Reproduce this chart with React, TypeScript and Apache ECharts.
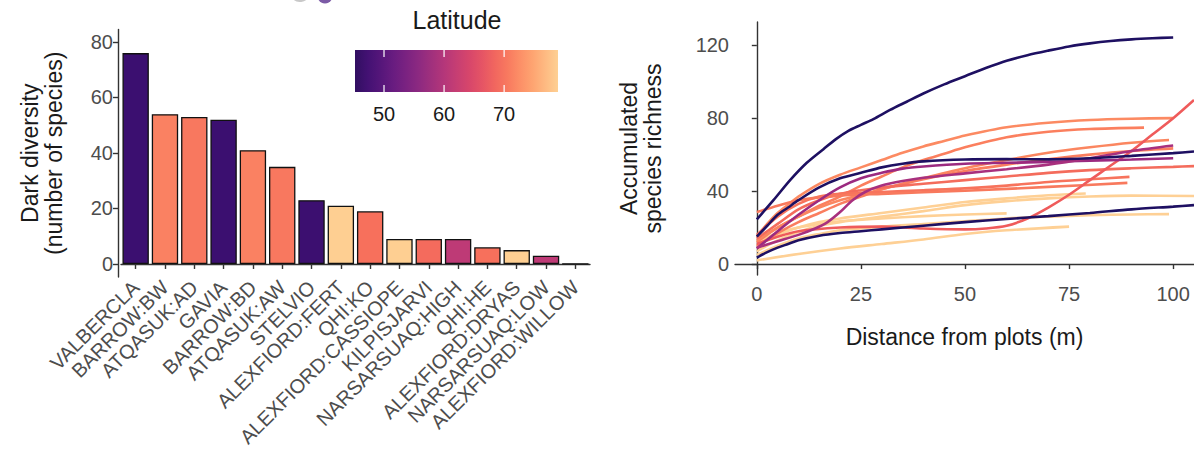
import React, { useEffect, useRef } from "react";
import * as echarts from "echarts";

// ---------- data ----------
const sites = [
  "VALBERCLA", "BARROW:BW", "ATQASUK:AD", "GAVIA", "BARROW:BD", "ATQASUK:AW",
  "STELVIO", "ALEXFIORD:FERT", "QHI:KO", "ALEXFIORD:CASSIOPE", "KILPISJARVI",
  "NARSARSUAQ:HIGH", "QHI:HE", "ALEXFIORD:DRYAS", "NARSARSUAQ:LOW", "ALEXFIORD:WILLOW",
];
const darkDiversity = [76, 54, 53, 52, 41, 35, 23, 21, 19, 9, 9, 9, 6, 5, 3, 0];
const siteLatitude = [46.4, 71.3, 70.45, 46.4, 71.3, 70.45, 46.5, 78.9, 69.6, 78.9, 69.05, 61.2, 69.6, 78.9, 61.2, 78.9];
const barTicks = [0, 20, 40, 60, 80];
const legendTicks = [50, 60, 70];
const legendRange = [45.17, 78.97];
const curveXTicks = [0, 25, 50, 75, 100];
const curveYTicks = [0, 40, 80, 120];

// accumulation curves: [distance, richness]
const curveA = [[0, 24.5], [4, 35], [8, 46], [12, 55.5], [16, 63], [19, 68.5], [22, 73], [25, 76.3], [28, 79.5], [32, 84.5], [36, 89], [40, 93.5], [45, 98.5], [50, 103], [55, 107.5], [60, 111.5], [65, 114.5], [70, 117], [75, 119.3], [80, 121], [85, 122.3], [90, 123.2], [95, 123.8], [100, 124.2]];
const curveD = [[0, 15], [2.5, 21], [5, 27], [7.5, 31], [10, 35], [15, 42], [20, 47], [25, 50], [30, 53], [35, 55], [40, 56.3], [50, 57.3], [60, 57.5], [70, 57.4], [80, 58], [90, 59.3], [100, 60.8], [105, 61.7]];
const curveE = [[0, 3.5], [2.5, 6.5], [5, 9], [7.5, 11], [10, 13], [15, 15.5], [20, 17], [25, 18], [30, 19], [40, 21], [50, 23], [60, 24.7], [70, 26.3], [80, 28], [90, 30], [100, 31.5], [105, 32.3]];
const curveF = [[0, 8.5], [5, 18], [10, 27], [15, 35], [20, 42], [25, 47], [30, 50], [35, 52.3], [40, 53.5], [50, 55], [60, 55.5], [70, 56], [80, 56.7], [90, 57.3], [100, 58]];
const curveG = [[0, 9], [5, 12.5], [10, 16], [14, 19.5], [17, 23], [20, 28.5], [23, 35], [26, 39.5], [30, 43], [35, 45.5], [40, 47.3], [50, 49.7], [60, 52], [70, 54.5], [80, 58], [90, 62], [100, 65]];
const curveB = [[0, 15], [2.5, 22], [5, 28], [7.5, 32.5], [10, 37], [15, 44], [20, 49], [25, 53], [30, 57], [35, 61], [40, 64.5], [45, 67.5], [50, 70.5], [60, 75], [70, 77.5], [80, 79], [90, 79.7], [100, 80]];
const curveC = [[0, 12], [5, 20], [10, 26], [15, 32], [20, 37], [25, 43], [30, 48], [35, 53], [40, 57], [45, 60.5], [50, 64], [60, 69.5], [70, 72.5], [80, 74], [93, 74.8]];
const curveH = [[0, 11], [5, 15], [10, 18], [20, 20], [30, 20.5], [40, 19.5], [50, 19], [55, 19.5], [60, 21], [65, 25], [70, 31], [75, 38], [80, 46], [85, 54], [90, 62], [95, 71], [100, 80], [105, 90]];
const curveI = [[0, 13], [5, 20], [10, 26], [15, 31], [20, 35], [25, 38], [30, 41], [40, 47], [50, 52.5], [60, 57], [70, 61], [80, 64], [90, 66.5], [99, 68]];
const curveJ = [[0, 10], [5, 17], [10, 23], [15, 28], [20, 33], [25, 37], [30, 41], [40, 46.5], [50, 51], [60, 54.5], [70, 57.5], [80, 60], [90, 62], [100, 63.4]];
const curveK = [[0, 14], [5, 22], [10, 30], [15, 35], [20, 38.5], [25, 40.5], [30, 42], [40, 44], [50, 46], [60, 48], [70, 50], [80, 51.5], [90, 52.5], [100, 53.3], [105, 53.7]];
const curveL = [[0, 16], [5, 26], [10, 33], [15, 37], [20, 38.5], [30, 39.5], [40, 40.5], [50, 41.5], [60, 43], [70, 45], [80, 46.5], [89.5, 47.8]];
const curveM = [[0, 28.5], [5, 32], [10, 35], [20, 37.5], [30, 38.5], [50, 40.2], [70, 42.3], [89, 44.5]];
const curveY1 = [[0, 2], [10, 5.5], [20, 8.5], [30, 11], [40, 13.5], [50, 16.5], [60, 18.5], [75, 20.5]];
const curveY2 = [[0, 12], [5, 17], [10, 20], [15, 22], [20, 23.5], [30, 25], [40, 26.3], [50, 27.2], [60, 27.8]];
const curveY3 = [[0, 10], [5, 16], [10, 20], [15, 23], [20, 25], [30, 28], [40, 31], [50, 34], [60, 36], [70, 37.7], [79, 38.7]];
const curveY4 = [[0, 7], [5, 13], [10, 17.5], [15, 21], [20, 23], [30, 26], [40, 29], [50, 32.3], [60, 34.5], [70, 36], [80, 37], [90, 37.5], [105, 37.3]];
const curveY5 = [[0, 5], [5, 10], [10, 14], [15, 16.5], [20, 18.5], [30, 20.5], [40, 22], [50, 23.5], [60, 25], [70, 26], [80, 26.8], [90, 27.2], [99, 27.4]];

const NAVY = "#1e1062";
const PURPLE1 = "#9b2a80";
const PURPLE2 = "#a8307e";
const YELLOW = "#fed095";
const curves = [
  { name: "Y1", data: curveY1, color: YELLOW },
  { name: "Y2", data: curveY2, color: YELLOW },
  { name: "Y3", data: curveY3, color: YELLOW },
  { name: "Y4", data: curveY4, color: YELLOW },
  { name: "Y5", data: curveY5, color: YELLOW },
  { name: "B", data: curveB, color: "#fc8a62" },
  { name: "C", data: curveC, color: "#fb7f5e" },
  { name: "I", data: curveI, color: "#fb8660" },
  { name: "J", data: curveJ, color: "#fa7e5f" },
  { name: "K", data: curveK, color: "#f46c5c" },
  { name: "L", data: curveL, color: "#f7735c" },
  { name: "M", data: curveM, color: "#f8795d" },
  { name: "H", data: curveH, color: "#ef5b5b" },
  { name: "F", data: curveF, color: PURPLE1 },
  { name: "G", data: curveG, color: PURPLE2 },
  { name: "E", data: curveE, color: NAVY },
  { name: "D", data: curveD, color: NAVY },
  { name: "A", data: curveA, color: NAVY },
];

// ---------- colour scale ----------
const MAGMA = ["#000004", "#140e36", "#3b0f70", "#641a80", "#8c2981", "#b73779", "#de4968", "#f7705c", "#fe9f6d", "#fecf92", "#fcfdbf"];
function hexToRgb(h: string) {
  return [parseInt(h.slice(1, 3), 16), parseInt(h.slice(3, 5), 16), parseInt(h.slice(5, 7), 16)];
}
function magma(t: number) {
  const s = Math.min(Math.max(t, 0), 1) * 10;
  const i = Math.min(Math.floor(s), 9);
  const f = s - i;
  const a = hexToRgb(MAGMA[i]);
  const b = hexToRgb(MAGMA[i + 1]);
  const c = a.map((v, k) => Math.round(v + (b[k] - v) * f));
  return `rgb(${c[0]},${c[1]},${c[2]})`;
}
const latToT = (lat: number) => 0.2 + ((lat - 46.4) / (78.9 - 46.4)) * 0.7;

const FONT = "'Liberation Sans', Arial, Helvetica, sans-serif";
const TICK_COLOR = "#4d4d4d";
const AXIS_COLOR = "#333333";
const TITLE_COLOR = "#1a1a1a";

export default function App() {
  const ref = useRef<HTMLDivElement>(null);
  useEffect(() => {
    if (!ref.current) return;
    const chart = echarts.init(ref.current, undefined, { renderer: "svg" });

    const gradStops = [] as { offset: number; color: string }[];
    const N = 16;
    for (let k = 0; k <= N; k++) {
      const lat = legendRange[0] + ((legendRange[1] - legendRange[0]) * k) / N;
      gradStops.push({ offset: k / N, color: magma(latToT(lat)) });
    }

    const axisLineStyle = { lineStyle: { color: AXIS_COLOR, width: 1.4 } };
    const axisTickStyle = { show: true, length: 5, lineStyle: { color: AXIS_COLOR, width: 1.4 } };

    chart.setOption({
      animation: false,
      backgroundColor: "#ffffff",
      textStyle: { fontFamily: FONT },
      grid: [
        { left: 121, top: 29.5, width: 469, height: 247.5 },
        { left: 735, top: 22, width: 463, height: 253 },
        { left: 355, top: 50, width: 203, height: 42 },
      ],
      xAxis: [
        {
          type: "category",
          gridIndex: 0,
          data: sites,
          axisLine: axisLineStyle,
          axisTick: { ...axisTickStyle, alignWithLabel: true },
          axisLabel: { rotate: 45, fontSize: 20, color: TICK_COLOR, fontFamily: FONT, margin: 7, interval: 0 },
          splitLine: { show: false },
        },
        {
          type: "value",
          gridIndex: 1,
          min: -5.24,
          max: 105,
          name: "Distance from plots (m)",
          nameLocation: "middle",
          nameGap: 50,
          nameTextStyle: { fontSize: 23, color: TITLE_COLOR, fontFamily: FONT },
          axisLine: axisLineStyle,
          axisTick: { ...axisTickStyle, customValues: curveXTicks },
          axisLabel: { fontSize: 20, color: TICK_COLOR, fontFamily: FONT, margin: 9, customValues: curveXTicks, showMinLabel: true, showMaxLabel: true },
          splitLine: { show: false },
        },
        {
          type: "value",
          gridIndex: 2,
          min: legendRange[0],
          max: legendRange[1],
          axisLine: { show: false },
          axisTick: { show: false },
          axisLabel: { fontSize: 20, color: TITLE_COLOR, fontFamily: FONT, margin: 12, customValues: legendTicks },
          splitLine: { show: false },
        },
      ],
      yAxis: [
        {
          type: "value",
          gridIndex: 0,
          min: -4.7,
          max: 84.5,
          offset: 3,
          name: "Dark diversity\n(number of species)",
          nameLocation: "middle",
          nameGap: 52,
          nameTextStyle: { fontSize: 23, color: TITLE_COLOR, fontFamily: FONT, lineHeight: 24 },
          axisLine: { show: true, ...axisLineStyle },
          axisTick: { ...axisTickStyle, customValues: barTicks },
          axisLabel: { fontSize: 20, color: TICK_COLOR, fontFamily: FONT, margin: 5, customValues: barTicks },
          splitLine: { show: false },
        },
        {
          type: "value",
          gridIndex: 1,
          min: -6,
          max: 132.7,
          name: "Accumulated\nspecies richness",
          nameLocation: "middle",
          nameGap: 70,
          nameTextStyle: { fontSize: 23, color: TITLE_COLOR, fontFamily: FONT, lineHeight: 24 },
          axisLine: { show: true, ...axisLineStyle },
          axisTick: { ...axisTickStyle, customValues: curveYTicks },
          axisLabel: { fontSize: 20, color: TICK_COLOR, fontFamily: FONT, margin: 6, customValues: curveYTicks },
          splitLine: { show: false },
        },
        { type: "value", gridIndex: 2, min: 0, max: 1, show: false },
      ],
      graphic: [
        {
          type: "text",
          x: 457,
          y: 20,
          style: { text: "Latitude", fontSize: 25, fill: TITLE_COLOR, fontFamily: FONT, textAlign: "center", textVerticalAlign: "middle" },
        },
        { type: "circle", shape: { cx: 325, cy: -4, r: 7.5 }, style: { fill: "#7c5ba6" } },
        { type: "arc", shape: { cx: 300, cy: -8, r: 9, startAngle: 0.3, endAngle: 2.6 }, style: { stroke: "#c8c8c8", lineWidth: 2, fill: "none" } },
      ],
      series: [
        {
          type: "bar",
          xAxisIndex: 0,
          yAxisIndex: 0,
          barWidth: "90%",
          data: darkDiversity.map((v, i) => ({
            value: v,
            itemStyle: { color: magma(latToT(siteLatitude[i])), borderColor: "#111", borderWidth: 1.3 },
          })),
        },
        ...curves.map((c) => ({
          type: "line",
          name: c.name,
          xAxisIndex: 1,
          yAxisIndex: 1,
          data: c.data,
          smooth: 0.3,
          showSymbol: false,
          symbol: "none",
          lineStyle: { color: c.color, width: 2.6 },
        })),
        {
          type: "custom",
          xAxisIndex: 2,
          yAxisIndex: 2,
          data: [[legendRange[0], 0]],
          renderItem: (params: any, api: any) => {
            const p0 = api.coord([legendRange[0], 1]);
            const p1 = api.coord([legendRange[1], 0]);
            const children: any[] = [
              {
                type: "rect",
                shape: { x: p0[0], y: p0[1], width: p1[0] - p0[0], height: p1[1] - p0[1] },
                style: { fill: new echarts.graphic.LinearGradient(0, 0, 1, 0, gradStops) },
              },
            ];
            legendTicks.forEach((t) => {
              const top = api.coord([t, 1]);
              const bot = api.coord([t, 0]);
              children.push({ type: "line", shape: { x1: top[0], y1: top[1], x2: top[0], y2: top[1] + 7 }, style: { stroke: "#ffffff", lineWidth: 1.2 } });
              children.push({ type: "line", shape: { x1: bot[0], y1: bot[1], x2: bot[0], y2: bot[1] - 7 }, style: { stroke: "#ffffff", lineWidth: 1.2 } });
            });
            return { type: "group", children };
          },
        },
      ],
    });
    return () => chart.dispose();
  }, []);
  return <div ref={ref} style={{ position: "fixed", left: 0, top: 0, width: 1194, height: 451 }} />;
}
